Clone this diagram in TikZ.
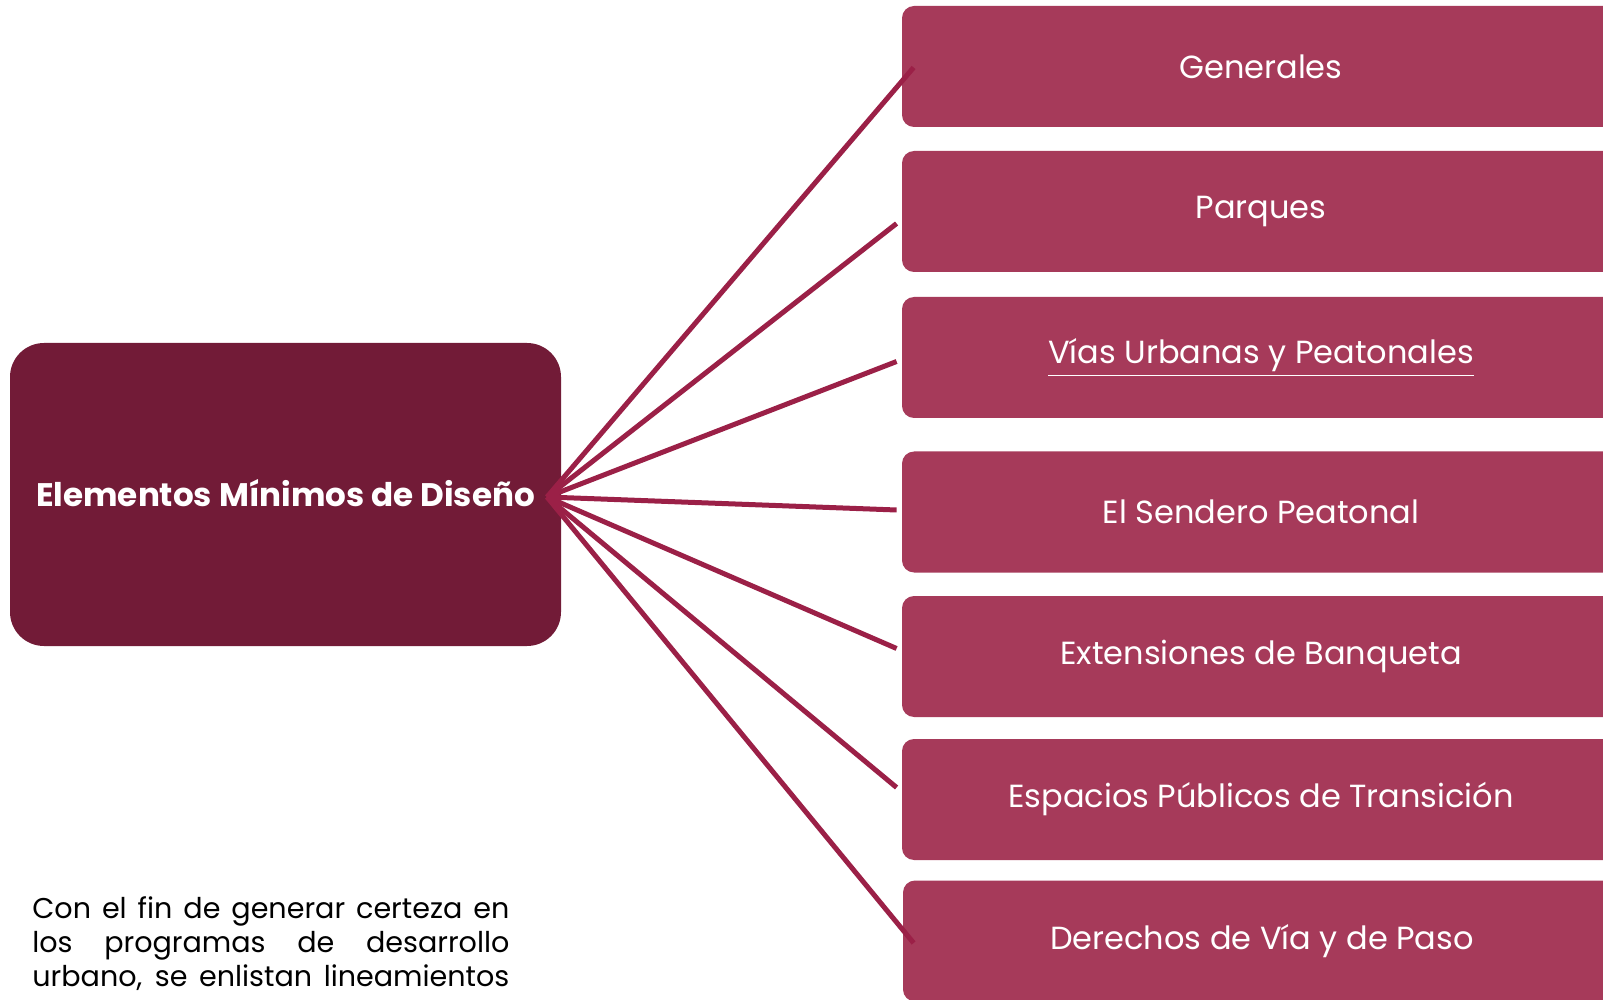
\documentclass[tikz,border=0pt]{standalone}
\usepackage{fontspec}
\setmainfont{Poppins}
\definecolor{hubred}{HTML}{721B37}
\definecolor{boxred}{HTML}{A63A5A}
\definecolor{linered}{HTML}{9B2047}

\begin{document}
\begin{tikzpicture}[x=0.5pt, y=-0.5pt,
  every node/.style={inner sep=0pt},
  hubbox/.style={fill=hubred, rounded corners=17pt, minimum width=275.5pt, minimum height=151.5pt},
  itembox/.style={fill=boxred, rounded corners=6pt, minimum width=359pt, minimum height=60.5pt, text=white, font=\fontsize{16}{19}\selectfont},
  link/.style={draw=linered, line width=2.5pt}]
  \useasboundingbox (0,0) rectangle (1603,1000);
  \node [hubbox] (hub) at (285.5, 494.5) {};
  \node [text=white, font=\fontsize{16.3}{19}\selectfont\bfseries] (hubtext) at (285.5, 493) {Elementos Mínimos de Diseño};
  \node [itembox] (gen) at (1261, 66.5) {Generales};
  \node [itembox] (par) at (1261, 211.5) {Parques};
  \node [itembox] (vias) at (1261, 357.5) {\underline{Vías Urbanas y Peatonales}};
  \node [itembox] (sen) at (1261, 512) {El Sendero Peatonal};
  \node [itembox] (ext) at (1261, 656.5) {Extensiones de Banqueta};
  \node [itembox] (esp) at (1261, 799.5) {Espacios Públicos de Transición};
  \node [itembox] (der) at (1262, 941) {Derechos de Vía y de Paso};
  \coordinate (hubtip) at (547, 497);
  \draw [link] (hubtip) -- ([xshift=6pt, yshift=-0.5pt]gen.west);
  \draw [link] (hubtip) -- ([xshift=-2.5pt, yshift=-6pt]par.west);
  \draw [link] (hubtip) -- ([xshift=-2.5pt, yshift=-2pt]vias.west);
  \draw [link] (hubtip) -- ([xshift=-2.5pt, yshift=1pt]sen.west);
  \draw [link] (hubtip) -- ([xshift=-2.5pt, yshift=4pt]ext.west);
  \draw [link] (hubtip) -- ([xshift=-2.5pt, yshift=6pt]esp.west);
  \draw [link] (hubtip) -- ([xshift=5.5pt, yshift=-1pt]der.west);
  \node [anchor=north west, align=left, font=\fontsize{14.3}{17}\selectfont] (note) at (32, 896)
    {\makebox[238.5pt][s]{Con el fin de generar certeza en}\\
     \makebox[238.5pt][s]{los programas de desarrollo}\\
     \makebox[238.5pt][s]{urbano, se enlistan lineamientos}};
\end{tikzpicture}
\end{document}
